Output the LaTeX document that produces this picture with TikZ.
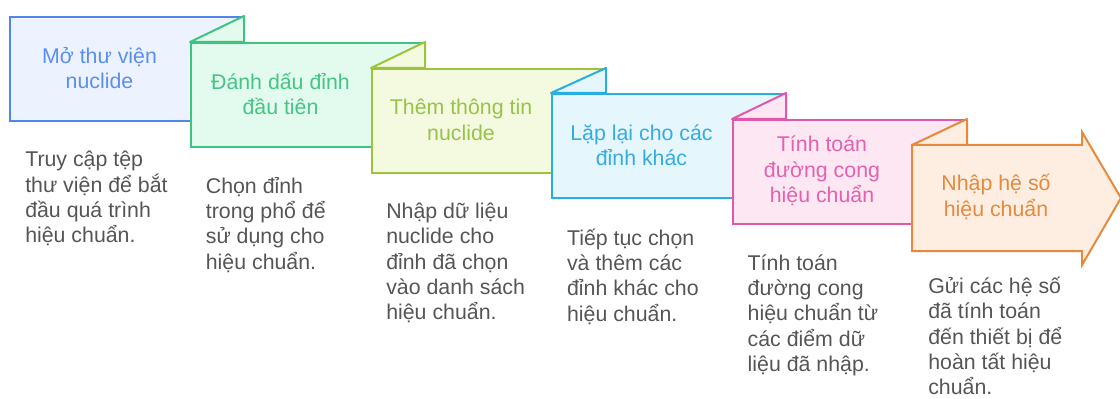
\documentclass[tikz,border=0pt]{standalone}
\usepackage{fontspec}
\setmainfont{Liberation Sans}
\usetikzlibrary{positioning,calc}

\definecolor{blueline}{HTML}{4F86EC}
\definecolor{bluefill}{HTML}{ECF2FE}
\definecolor{bluetext}{HTML}{5B8FEF}
\definecolor{greenline}{HTML}{3DC47E}
\definecolor{greenfill}{HTML}{E3FBEF}
\definecolor{greentext}{HTML}{45C585}
\definecolor{limeline}{HTML}{9BC33B}
\definecolor{limefill}{HTML}{F3FADF}
\definecolor{limetext}{HTML}{99C24A}
\definecolor{cyanline}{HTML}{28AEE0}
\definecolor{cyanfill}{HTML}{E6F6FD}
\definecolor{cyantext}{HTML}{35ACDF}
\definecolor{pinkline}{HTML}{E058A9}
\definecolor{pinkfill}{HTML}{FCE7F3}
\definecolor{pinktext}{HTML}{E262AE}
\definecolor{orangeline}{HTML}{E6893A}
\definecolor{orangefill}{HTML}{FDEEE1}
\definecolor{orangetext}{HTML}{E38A3E}
\definecolor{descgray}{HTML}{555555}

\begin{document}
\begin{tikzpicture}[x=0.75pt, y=-0.75pt]
\tikzstyle{panel} = [draw, rectangle, line width=1.5pt, minimum width=174.75pt, minimum height=78pt, anchor=north west, inner sep=0pt]
\tikzstyle{flap} = [line width=1.5pt, line join=round]
\tikzstyle{title} = [align=center, font=\fontsize{16}{19}\selectfont]
\tikzstyle{desc} = [align=left, anchor=north west, inner sep=0pt, text=descgray, font=\fontsize{16}{19}\selectfont, execute at begin node={\rule{0pt}{15pt}}]

\useasboundingbox (0,0) rectangle (1120,399);

% step 1
\node[panel, draw=blueline, fill=bluefill] (p1) at (9,16) {};
\node[title, text=bluetext] (t1) at (99.5,68) {Mở thư viện\\nuclide};
\node[desc] (d1) at (25,151) {Truy cập tệp\\thư viện để bắt\\đầu quá trình\\hiệu chuẩn.};

% step 2
\node[panel, draw=greenline, fill=greenfill] (p2) at (190,42) {};
\filldraw[flap, draw=greenline, fill=greenfill] (p2.north west) -- (p1.north east) -- (p1.north east |- p2.north) -- cycle;
\node[title, text=greentext] (t2) at (280.5,94) {Đánh dấu đỉnh\\đầu tiên};
\node[desc] (d2) at (205.6,176.8) {Chọn đỉnh\\trong phổ để\\sử dụng cho\\hiệu chuẩn.};

% step 3
\node[panel, draw=limeline, fill=limefill] (p3) at (371,68) {};
\filldraw[flap, draw=limeline, fill=limefill] (p3.north west) -- (p2.north east) -- (p2.north east |- p3.north) -- cycle;
\node[title, text=limetext] (t3) at (461,120) {Thêm thông tin\\nuclide};
\node[desc] (d3) at (386,202.6) {Nhập dữ liệu\\nuclide cho\\đỉnh đã chọn\\vào danh sách\\hiệu chuẩn.};

% step 4
\node[panel, draw=cyanline, fill=cyanfill] (p4) at (551,93) {};
\filldraw[flap, draw=cyanline, fill=cyanfill] (p4.north west) -- (p3.north east) -- (p3.north east |- p4.north) -- cycle;
\node[title, text=cyantext] (t4) at (641.5,145) {Lặp lại cho các\\đỉnh khác};
\node[desc] (d4) at (566.8,228.4) {Tiếp tục chọn\\và thêm các\\đỉnh khác cho\\hiệu chuẩn.};

% step 5
\node[panel, draw=pinkline, fill=pinkfill] (p5) at (732,119) {};
\filldraw[flap, draw=pinkline, fill=pinkfill] (p5.north west) -- (p4.north east) -- (p4.north east |- p5.north) -- cycle;
\node[title, text=pinktext] (t5) at (822,171) {Tính toán\\đường cong\\hiệu chuẩn};
\node[desc] (d5) at (747.4,254.2) {Tính toán\\đường cong\\hiệu chuẩn từ\\các điểm dữ\\liệu đã nhập.};

% step 6 (arrow)
\node[panel, minimum width=126pt, draw=none] (p6) at (912,145) {};
\filldraw[flap, line join=miter, draw=orangeline, fill=orangefill] (p6.north west) -- (p6.north east) -- ++(0,-13) -- ($(p6.east)+(39,0)$) -- ($(p6.south east)+(0,14)$) -- (p6.south east) -- (p6.south west) -- cycle;
\filldraw[flap, draw=orangeline, fill=orangefill] (p6.north west) -- (p5.north east) -- (p5.north east |- p6.north) -- cycle;
\node[title, text=orangetext] (t6) at (996,197) {Nhập hệ số\\hiệu chuẩn};
\node[desc] (d6) at (928,277) {Gửi các hệ số\\đã tính toán\\đến thiết bị để\\hoàn tất hiệu\\chuẩn.};
\end{tikzpicture}
\end{document}
